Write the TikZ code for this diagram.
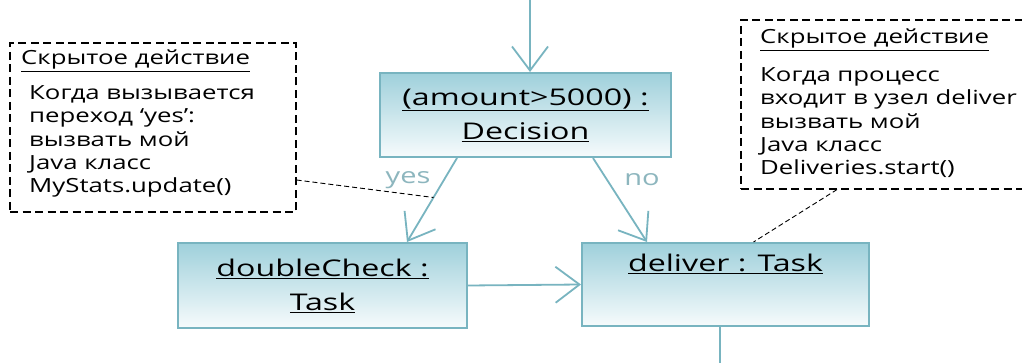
\documentclass[tikz,border=0pt]{standalone}
\usepackage{fontspec}
\setmainfont{Open Sans}
\newfontfamily\notefont[FakeStretch=1.32]{Open Sans}
\newfontfamily\boxfont[FakeStretch=1.4]{Open Sans}
\usetikzlibrary{arrows.meta}
\definecolor{tealb}{HTML}{78B4C0}
\definecolor{tealtop}{HTML}{9FD0DB}
\definecolor{tealbot}{HTML}{F6FBFC}
\definecolor{lbl}{HTML}{8DB6BE}
\tikzset{
  taskbox/.style={draw=tealb, line width=2pt, top color=tealtop, bottom color=tealbot,
    align=center, inner sep=0pt, font=\boxfont\fontsize{23}{34}\selectfont},
  flow/.style={draw=tealb, line width=1.8pt, -{Straight Barb[length=24pt,width=36pt,line width=1.8pt]}},
  notebox/.style={draw=black, line width=1.1pt, dash pattern=on 8pt off 4.5pt, inner sep=0pt},
  notetext/.style={inner sep=0pt, align=left, font=\notefont\fontsize{19.5}{23.2}\selectfont},
  notelink/.style={draw=black, line width=0.9pt, dash pattern=on 5pt off 3pt},
  guard/.style={text=lbl, inner sep=0pt, font=\notefont\fontsize{22}{26}\selectfont}
}
\begin{document}
\begin{tikzpicture}[x=1pt,y=-1pt]
\useasboundingbox[fill=white] (0,0) rectangle (1022,363);
% task boxes
\node[taskbox, minimum width=291pt, minimum height=84pt] (dec) at (525.5,115)
  {\underline{(amount>5000) :}\\ \underline{Decision}};
\node[taskbox, minimum width=289pt, minimum height=85pt] (dc) at (322.5,285.5)
  {\underline{doubleCheck :}\\ \underline{Task}};
\node[taskbox, minimum width=287pt, minimum height=83pt] (del) at (725.5,284.5)
  {\underline{deliver : Task}\\ \strut};
% flows
\coordinate (topin) at (530,0);
\coordinate (botout) at (720,363);
\draw[flow] (topin) -- (topin |- dec.north);
\draw[flow] ([xshift=-68.5pt]dec.south) -- coordinate[pos=0.47] (yesmid) ([xshift=84.5pt]dc.north);
\draw[flow] ([xshift=67.5pt]dec.south) -- ([xshift=-78.5pt]del.north);
\draw[flow] (dc.east) -- (del.west);
\draw[draw=tealb, line width=1.8pt] ([xshift=-5.5pt]del.south) -- (botout);
\node[guard] (yes) at (408,180) {yes};
\node[guard] (no) at (642,180) {no};
% notes
\begin{scope}
\clip (0,0) rectangle (1022,363);
\node[notebox, minimum width=286pt, minimum height=169pt] (n1) at (153,127.5) {};
\node[notebox, minimum width=300pt, minimum height=169pt] (n2) at (891,104.5) {};
\end{scope}
\node[notetext, anchor=base west] (t1) at (21,65) {\underline{Скрытое действие}};
\node[notetext, anchor=north west] (b1) at (29,85.5)
  {Когда вызывается\\переход ‘yes’:\\вызвать мой\\Java класс\\MyStats.update()};
\node[notetext, anchor=base west] (t2) at (760,44) {\underline{Скрытое действие}};
\node[notetext, anchor=north west] (b2) at (760,67.5)
  {Когда процесс\\входит в узел deliver\\вызвать мой\\Java класс\\Deliveries.start()};
\draw[notelink] ([yshift=-52.5pt]n1.east) -- (yesmid);
\draw[notelink] ([xshift=-54pt]n2.south) -- ([xshift=28pt]del.north);
\end{tikzpicture}
\end{document}
